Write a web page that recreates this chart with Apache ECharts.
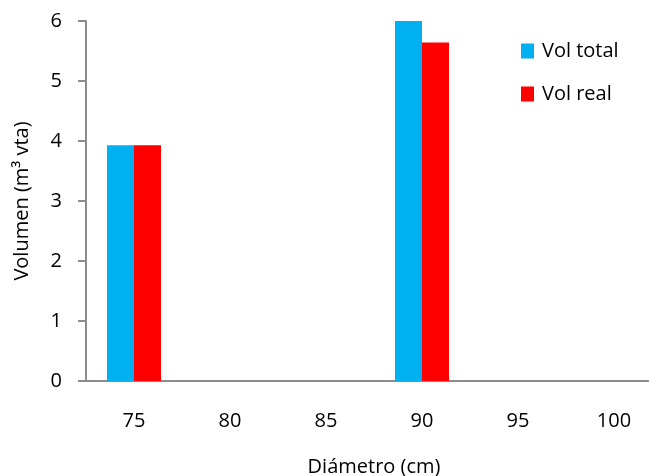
<!DOCTYPE html>
<html><head><meta charset="utf-8">
<script src="https://cdn.jsdelivr.net/npm/echarts@6/dist/echarts.min.js"></script>
<style>html,body{margin:0;padding:0;background:#fff}#c{width:649px;height:476px}</style>
</head><body><div id="c"></div>
<script>
const categories = ['75','80','85','90','95','100'];
const volTotal = [3.93, null, null, 6.02, null, null];
const volReal = [3.93, null, null, 5.64, null, null];
const yTicks = [0, 1, 2, 3, 4, 5, 6];

const FONT = 'Open Sans';
const chart = echarts.init(document.getElementById('c'), null, {renderer: 'canvas'});
chart.setOption({
  animation: false,
  backgroundColor: '#ffffff',
  textStyle: {fontFamily: FONT},
  grid: {left: 86, top: 21, width: 576, height: 360, containLabel: false, outerBoundsMode: 'none'},
  legend: {
    orient: 'vertical', left: 521, top: 41, padding: 0, itemWidth: 13, itemHeight: 15, itemGap: 23,
    icon: 'rect',
    textStyle: {fontFamily: FONT, fontSize: 20, color: '#000', padding: [0,0,0,3]},
    data: ['Vol total', 'Vol real']
  },
  xAxis: {
    type: 'category', data: categories,
    name: 'Diámetro (cm)', nameLocation: 'middle', nameGap: 76,
    nameTextStyle: {fontFamily: FONT, fontSize: 20, color: '#000'},
    axisLine: {lineStyle: {color: '#8c8c8c', width: 2}},
    axisTick: {show: false},
    axisLabel: {fontFamily: FONT, fontSize: 20, color: '#000', margin: 30}
  },
  yAxis: {
    type: 'value', min: yTicks[0], max: yTicks[yTicks.length-1], interval: 1,
    name: 'Volumen (m³ vta)', nameLocation: 'middle', nameGap: 54, nameRotate: 90,
    nameTextStyle: {fontFamily: FONT, fontSize: 20, color: '#000'},
    axisLine: {show: true, lineStyle: {color: '#8c8c8c', width: 2}},
    axisTick: {show: true, inside: false, length: 8, lineStyle: {color: '#8c8c8c', width: 2}},
    axisLabel: {fontFamily: FONT, fontSize: 20, color: '#000', margin: 24},
    splitLine: {show: false}
  },
  series: [
    {name: 'Vol total', type: 'bar', data: volTotal, barWidth: 27, barGap: '0%', itemStyle: {color: '#00B0F0'}},
    {name: 'Vol real', type: 'bar', data: volReal, barWidth: 27, barGap: '0%', itemStyle: {color: '#FF0000'}}
  ]
});
</script></body></html>
